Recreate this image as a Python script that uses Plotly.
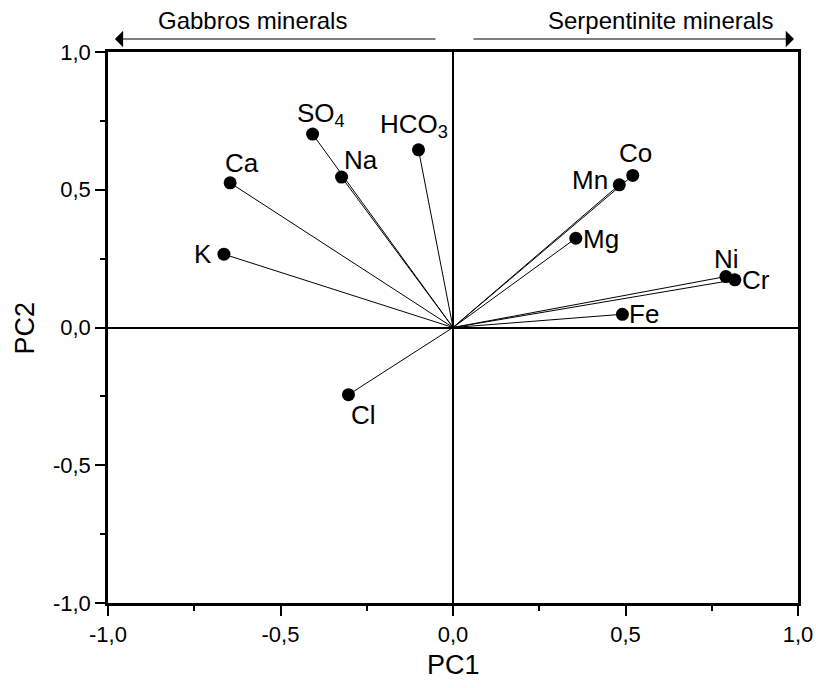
import plotly.graph_objects as go

variables = ["Ca", "K", "SO<sub>4</sub>", "Na", "HCO<sub>3</sub>", "Cl",
             "Mn", "Co", "Mg", "Ni", "Cr", "Fe"]
pc1 = [-0.646, -0.664, -0.407, -0.323, -0.100, -0.303,
       0.482, 0.521, 0.356, 0.791, 0.817, 0.491]
pc2 = [0.525, 0.266, 0.702, 0.546, 0.645, -0.244,
       0.518, 0.552, 0.324, 0.185, 0.173, 0.048]

tick_vals = [-1.0, -0.5, 0.0, 0.5, 1.0]
tick_text = ["-1,0", "-0,5", "0,0", "0,5", "1,0"]
minor_vals = [-0.75, -0.25, 0.25, 0.75]

# label offsets in pixels (style)
label_style = {
    "Ca": dict(xshift=12, yshift=20),
    "K": dict(xshift=-21, yshift=0),
    "SO<sub>4</sub>": dict(xshift=8, yshift=20),
    "Na": dict(xshift=19, yshift=17),
    "HCO<sub>3</sub>": dict(xshift=-5, yshift=24),
    "Cl": dict(xshift=15, yshift=-20),
    "Mn": dict(xshift=-29, yshift=5),
    "Co": dict(xshift=3, yshift=22),
    "Mg": dict(xshift=25, yshift=-1),
    "Ni": dict(xshift=1, yshift=18),
    "Cr": dict(xshift=21, yshift=0),
    "Fe": dict(xshift=22, yshift=0),
}

FONT = "Liberation Sans, Arial, sans-serif"

fig = go.Figure()
for name, x, y in zip(variables, pc1, pc2):
    fig.add_trace(go.Scatter(x=[0, x], y=[0, y], mode="lines",
                             line=dict(color="black", width=1),
                             showlegend=False, hoverinfo="skip"))
fig.add_trace(go.Scatter(x=pc1, y=pc2, mode="markers",
                         marker=dict(color="black", size=13),
                         showlegend=False, text=variables))

for name, x, y in zip(variables, pc1, pc2):
    fig.add_annotation(x=x, y=y, text=name, showarrow=False,
                       font=dict(family=FONT, size=26, color="black"),
                       **label_style[name])

# top arrows and labels
arrow_kw = dict(xref="x domain", yref="y domain", axref="x domain", ayref="y domain",
                text="", showarrow=True, arrowhead=1, arrowsize=2.5, arrowwidth=1.1,
                arrowcolor="black")
fig.add_annotation(x=0.010, y=1.0236, ax=0.4768, ay=1.0236, **arrow_kw)
fig.add_annotation(x=0.9942, y=1.0236, ax=0.5275, ay=1.0236, **arrow_kw)
fig.add_annotation(xref="x domain", yref="y domain", x=0.2101, y=1.0563,
                   xanchor="center", yanchor="middle",
                   text="Gabbros minerals", showarrow=False,
                   font=dict(family=FONT, size=24, color="black"))
fig.add_annotation(xref="x domain", yref="y domain", x=0.80, y=1.0563,
                   xanchor="center", yanchor="middle",
                   text="Serpentinite minerals", showarrow=False,
                   font=dict(family=FONT, size=24, color="black"))

# axis titles
fig.add_annotation(xref="x domain", yref="y domain", x=0.5, y=-0.1125,
                   xanchor="center", yanchor="middle", text="PC1", showarrow=False,
                   font=dict(family=FONT, size=27, color="black"))
fig.add_annotation(xref="x domain", yref="y domain", x=-0.1203, y=0.5,
                   xanchor="center", yanchor="middle", text="PC2", showarrow=False,
                   textangle=-90, font=dict(family=FONT, size=27, color="black"))

axis_common = dict(
    range=[-1, 1], tickvals=tick_vals, ticktext=tick_text,
    ticks="outside", ticklen=10, tickwidth=1.5, tickcolor="black",
    minor=dict(tickvals=minor_vals, ticks="outside",
               ticklen=5, tickwidth=1.5, tickcolor="black", showgrid=False),
    showline=True, linecolor="black", linewidth=2.5, mirror=True,
    showgrid=False, zeroline=True, zerolinecolor="black", zerolinewidth=1.5,
    tickfont=dict(family=FONT, size=22, color="black"),
    automargin=False,
)

fig.update_xaxes(**axis_common)
fig.update_yaxes(**axis_common)

fig.update_layout(
    width=816, height=688,
    margin=dict(l=108, r=18, t=52, b=85),
    plot_bgcolor="white", paper_bgcolor="white",
    font=dict(family=FONT, color="black"),
)

fig.write_html("out.html")
